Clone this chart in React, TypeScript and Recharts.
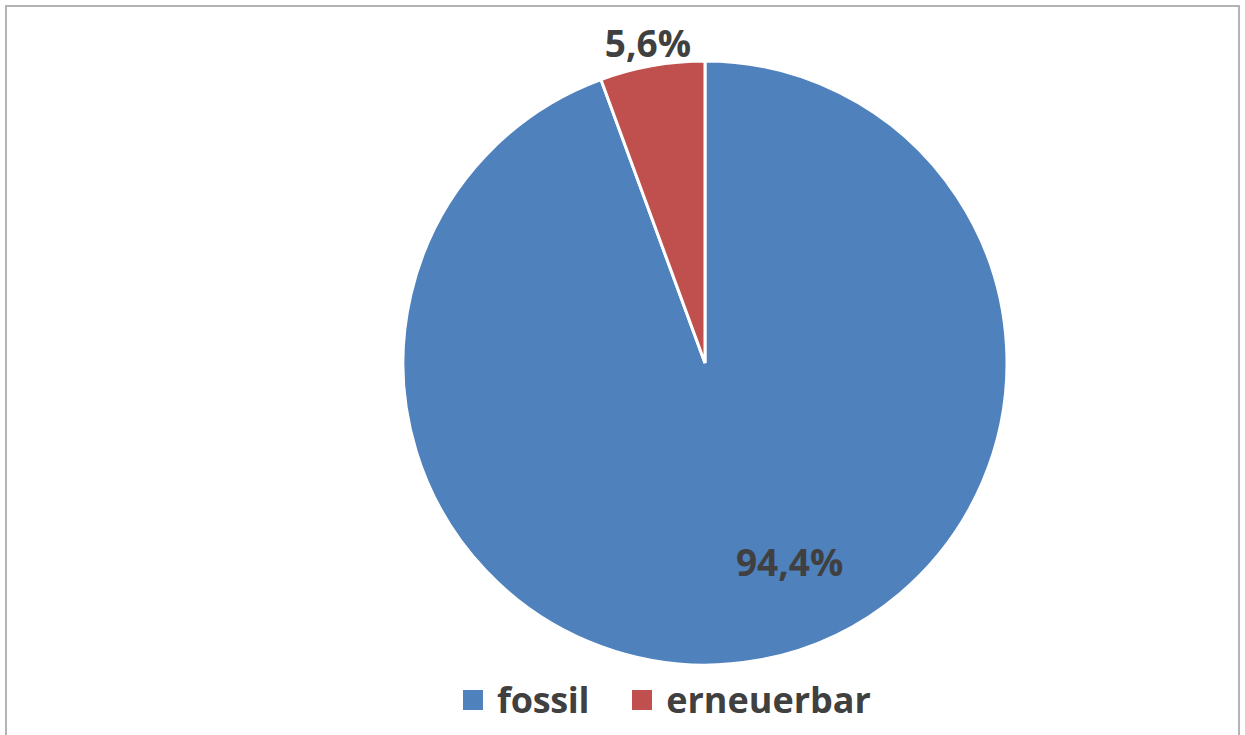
import { PieChart, Pie, Cell, Legend } from 'recharts';

const categories = ['fossil', 'erneuerbar'];
const shares = [94.4, 5.6];
const colors = ['#4F81BD', '#C0504D'];

const data = categories.map((name, i) => ({ name, value: shares[i] }));

const RADIAN = Math.PI / 180;
const labelFont = '"Open Sans", Calibri, sans-serif';

function renderLabel(props: any) {
  const { cx, cy, midAngle, outerRadius, index, value } = props;
  // large slice gets its label inside (best fit), small one sits outside
  const inside = index === 0;
  const r = inside ? outerRadius * 0.715 : outerRadius + 24;
  const angle = inside ? midAngle + 13 : midAngle;
  const x = cx + r * Math.cos(-angle * RADIAN);
  const y = cy + r * Math.sin(-angle * RADIAN);
  return (
    <text
      x={x}
      y={y}
      fill="#404040"
      textAnchor="middle"
      dominantBaseline="central"
      fontFamily={labelFont}
      fontWeight={700}
      fontSize={37}
    >
      {value.toFixed(1).replace('.', ',')}%
    </text>
  );
}

function renderLegend() {
  return (
    <div style={{ display: 'flex', gap: 43, paddingLeft: 463, fontFamily: labelFont }}>
      {categories.map((name, i) => (
        <div key={name} style={{ display: 'flex', alignItems: 'center' }}>
          <span style={{ width: 20, height: 20, background: colors[i], display: 'inline-block', marginRight: 14 }} />
          <span style={{ color: '#404040', fontWeight: 700, fontSize: 36, lineHeight: '40px', letterSpacing: name === 'fossil' ? -0.3 : 0 }}>
            {name}
          </span>
        </div>
      ))}
    </div>
  );
}

export default function App() {
  return (
    <div style={{ position: 'fixed', left: 0, top: 0, width: 1245, height: 735, background: '#fff', overflow: 'hidden' }}>
      <div
        style={{
          position: 'absolute',
          left: 5,
          top: 5,
          width: 1235,
          height: 760,
          border: '2px solid #b4b4b4',
          boxSizing: 'border-box',
        }}
      />
      <PieChart
        width={1245}
        height={735}
        margin={{ top: 0, right: 0, bottom: 0, left: 0 }}
        style={{ position: 'absolute', left: 0, top: 0 }}
      >
        <Pie
          data={data}
          dataKey="value"
          nameKey="name"
          cx={705}
          cy={363}
          outerRadius={302}
          startAngle={90}
          endAngle={-270}
          stroke="#fff"
          strokeWidth={3}
          label={renderLabel}
          labelLine={false}
          isAnimationActive={false}
        >
          {data.map((d, i) => (
            <Cell key={d.name} fill={colors[i]} />
          ))}
        </Pie>
        <Legend
          verticalAlign="bottom"
          content={renderLegend}
          wrapperStyle={{ left: 0, bottom: 15, width: 1245 }}
        />
      </PieChart>
    </div>
  );
}
